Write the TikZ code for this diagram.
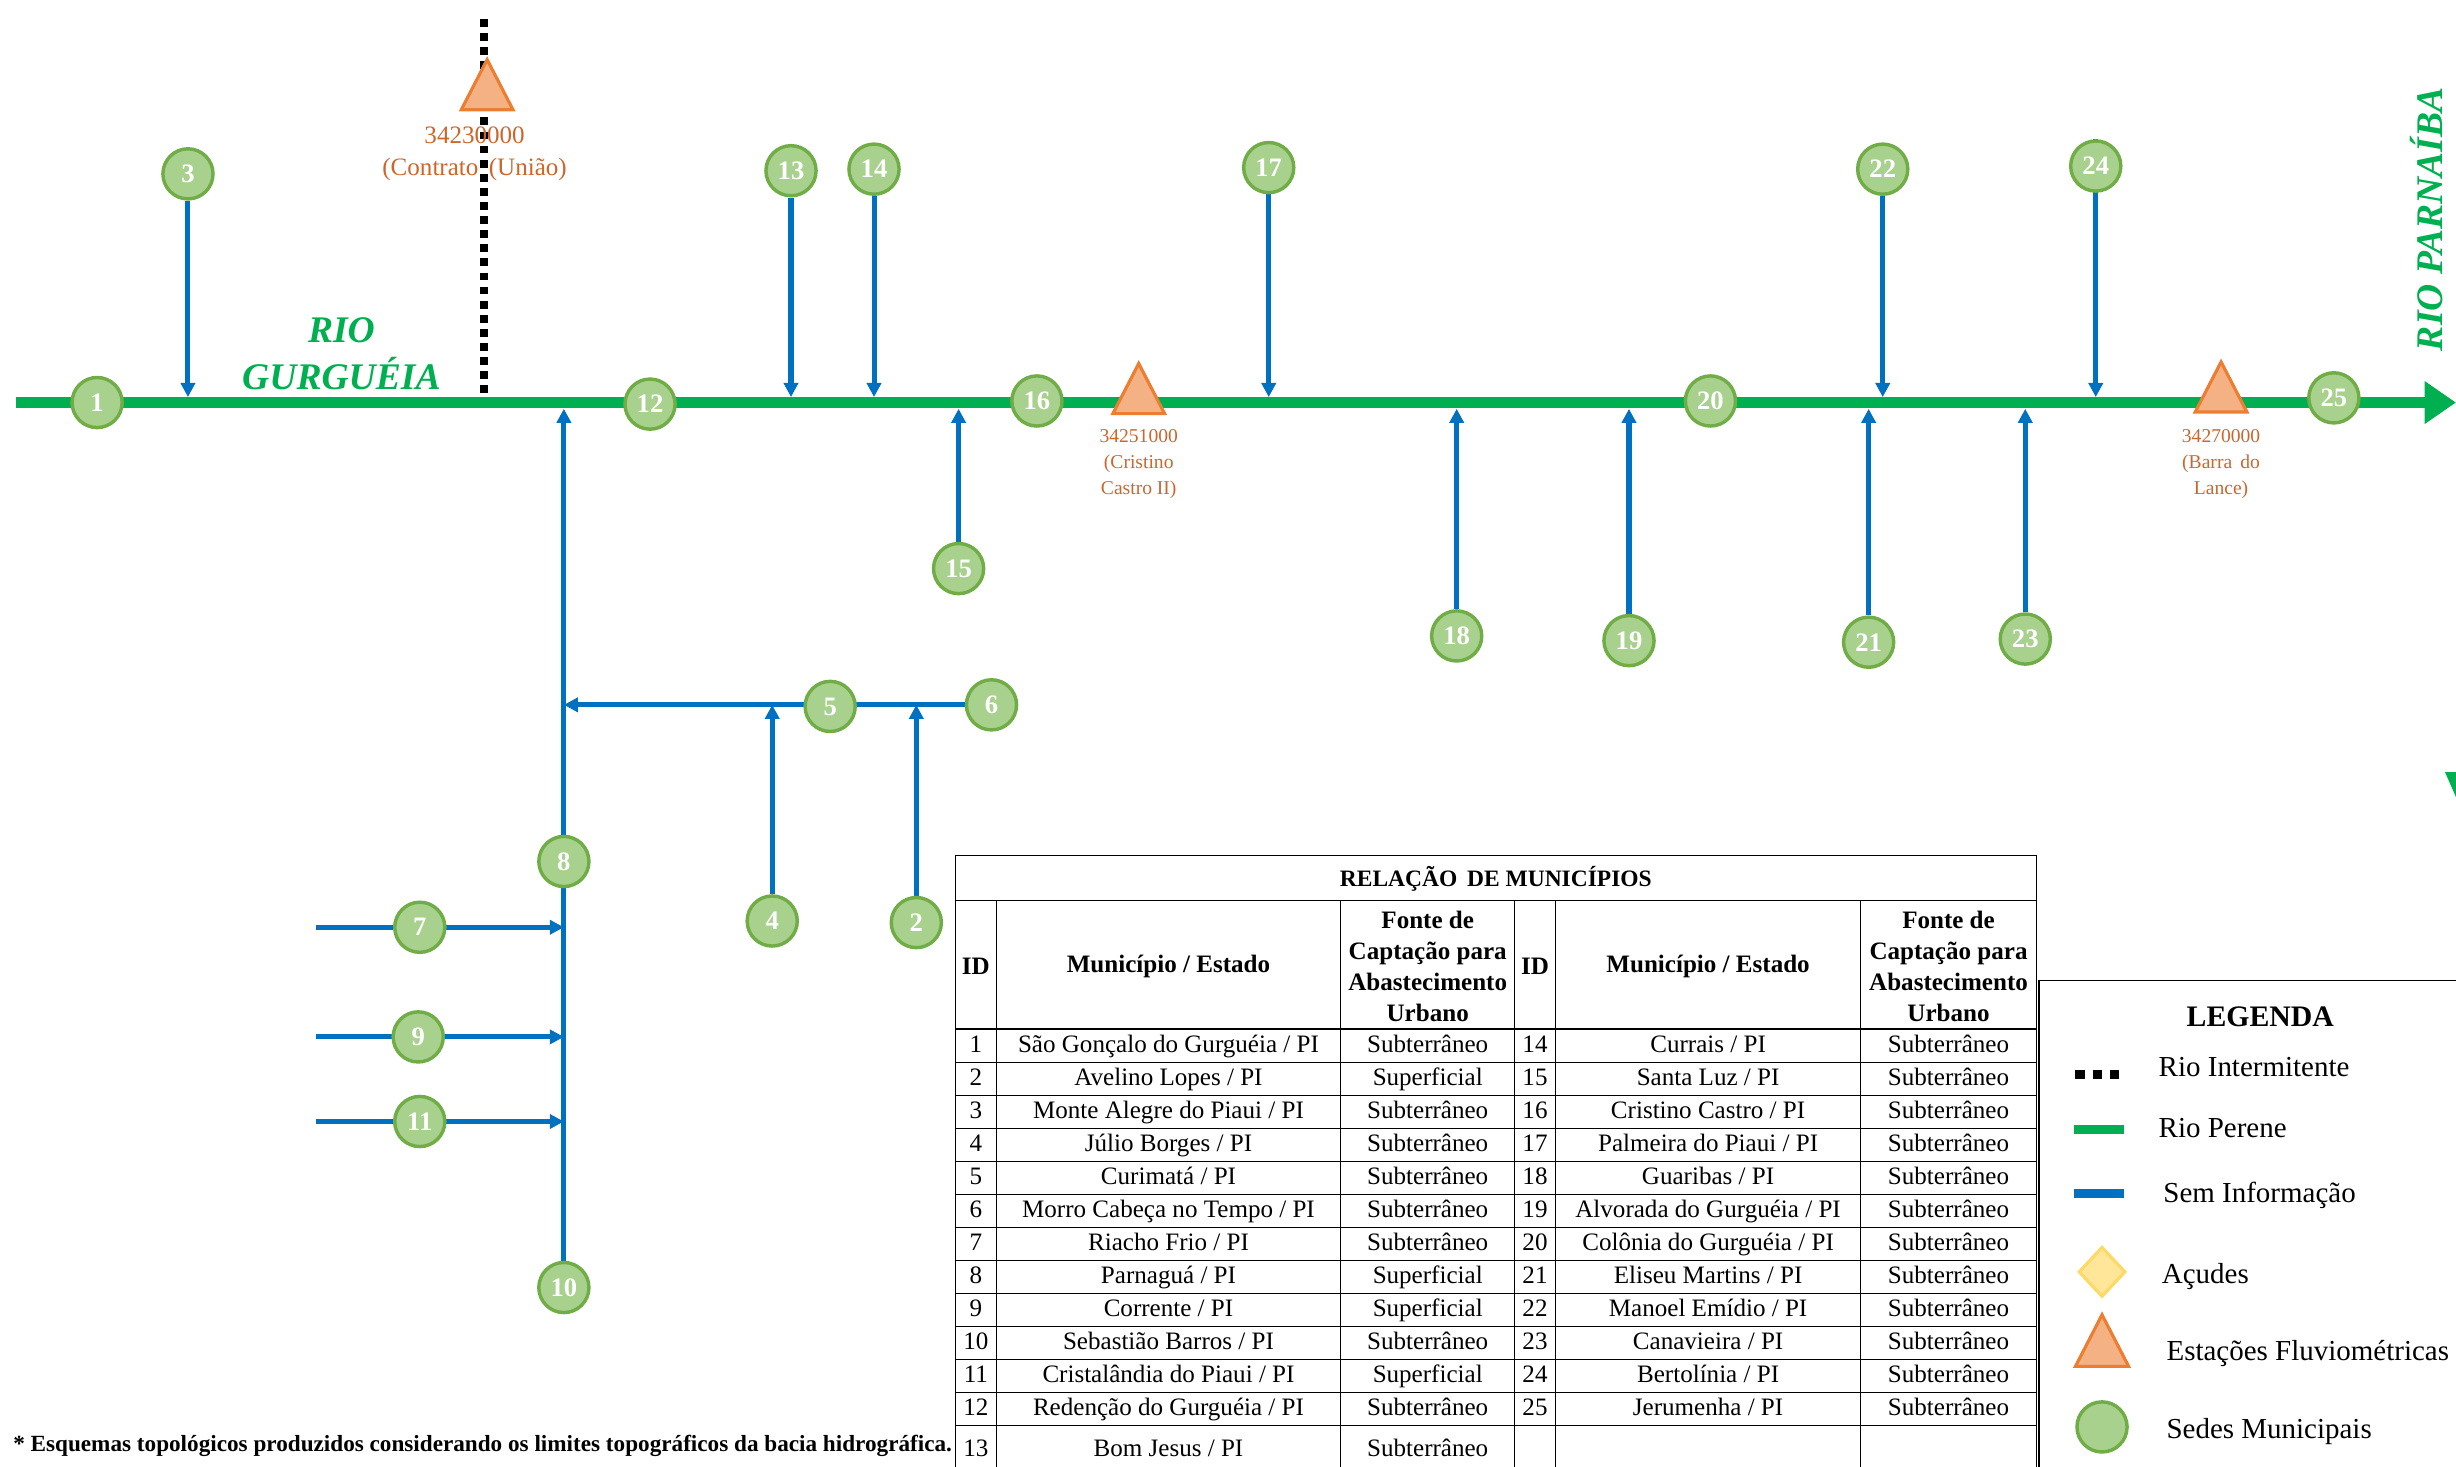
\documentclass[tikz,border=0pt]{standalone}
\usepackage{fontspec}
\setmainfont{Liberation Serif}
\usepackage{tikz}
\usetikzlibrary{shapes.geometric, arrows.meta, positioning, backgrounds}

\definecolor{rgreen}{RGB}{0,176,80}
\definecolor{sblue}{RGB}{0,112,192}
\definecolor{cline}{RGB}{112,173,71}
\definecolor{cfill}{RGB}{169,209,142}
\definecolor{tline}{RGB}{237,125,49}
\definecolor{tfill}{RGB}{244,177,131}
\definecolor{tlabel}{RGB}{204,102,45}
\definecolor{dline}{RGB}{255,217,102}
\definecolor{dfill}{RGB}{255,230,153}

\newcommand{\fsz}[2]{\fontsize{#1}{#2}\selectfont}

\begin{document}
\begin{tikzpicture}[x=1pt, y=-1pt,
	river/.style = {draw=rgreen, line width=7.5pt},
	trib/.style = {draw=sblue, line width=3.2pt},
	arrow/.style = {trib, -{Triangle[length=9pt, width=9pt]}},
	dry/.style = {draw=black, line width=5pt, dash pattern=on 5pt off 4pt},
	sede/.style = {circle, draw=cline, line width=2.2pt, fill=cfill, text=white, font=\bfseries\fsz{17}{17}, minimum size=32pt, inner sep=0pt},
	station/.style = {isosceles triangle, isosceles triangle stretches, shape border rotate=90, draw=tline, line width=2pt, fill=tfill, minimum width=33pt, minimum height=32pt, inner sep=0pt},
	stlabel/.style = {text=tlabel, align=center, inner sep=0pt}]
		\tikzset{cell/.style={font=\fsz{16}{20}, inner sep=0pt, text height=11pt, text depth=3.5pt},
			head/.style={font=\bfseries\fsz{16}{20}, inner sep=0pt, align=center},
			item/.style={anchor=west, font=\fsz{18.5}{22}, inner sep=0pt, text height=13pt, text depth=4pt}}
		\useasboundingbox (0,0) rectangle (1568,936);

		\coordinate (src) at (10,257);
		\coordinate (mouth) at (1568,257);
		\coordinate (rtop) at (0,253.5);
		\coordinate (rbot) at (0,261);
		\coordinate (dtop) at (309,12);
		\coordinate (t24) at (1338,89);
		\coordinate (w7) at (202,592);
		\coordinate (w9) at (202,662);
		\coordinate (w11) at (202,716);

		% sedes municipais
		\node[sede] (n1) at (62,257) {1};
		\node[sede] (n2) at (585,589) {2};
		\node[sede] (n3) at (120,111) {3};
		\node[sede] (n4) at (493,588) {4};
		\node[sede] (n5) at (530,451) {5};
		\node[sede] (n6) at (633,450) {6};
		\node[sede] (n7) at (268,592) {7};
		\node[sede] (n8) at (360,550) {8};
		\node[sede] (n9) at (267,662) {9};
		\node[sede] (n10) at (360,822) {10};
		\node[sede] (n11) at (268,716) {11};
		\node[sede] (n12) at (415,258) {12};
		\node[sede] (n13) at (505,109) {13};
		\node[sede] (n14) at (558,108) {14};
		\node[sede] (n15) at (612,363) {15};
		\node[sede] (n16) at (662,256) {16};
		\node[sede] (n17) at (810,107) {17};
		\node[sede] (n18) at (930,406) {18};
		\node[sede] (n19) at (1040,409) {19};
		\node[sede] (n20) at (1092,256) {20};
		\node[sede] (n21) at (1193,410) {21};
		\node[sede] (n22) at (1202,108) {22};
		\node[sede] (n23) at (1293,408) {23};
		\node[sede] (n24) at (1338,106) {24};
		\node[sede] (n25) at (1490,254) {25};

		% estacoes fluviometricas
		\node[station] (st1) at (311,60) {};
		\node[stlabel, font=\fsz{16}{20}, below=10pt of st1, xshift=-8pt] (lb1) {34230000\\(Contrato \,(União)};
		\node[station] (st2) at (727,254) {};
		\node[stlabel, font=\fsz{12.5}{16.5}, below=9pt of st2] (lb2) {34251000\\(Cristino\\Castro II)};
		\node[station] (st3) at (1418,253) {};
		\node[stlabel, font=\fsz{12.5}{16.5}, below=10pt of st3] (lb3) {34270000\\(Barra \,do\\Lance)};

		\node[text=rgreen, font=\bfseries\itshape\fsz{24}{30}, align=center] (gurg) at (218,226) {RIO\\GURGUÉIA};
		\node[text=rgreen, font=\bfseries\itshape\fsz{24}{30}, rotate=90] (parn) at (1549,140) {RIO PARNAÍBA};

		\begin{pgfonlayer}{background}
			\draw[river, -{Triangle[length=20pt, width=26pt]}] (src) -- (mouth);
			\draw[dry] (dtop) -- (dtop |- rtop);

			\draw[arrow] (n3) -- (n3 |- rtop);
			\draw[arrow] (n13) -- (n13 |- rtop);
			\draw[arrow] (n14) -- (n14 |- rtop);
			\draw[arrow] (n17) -- (n17 |- rtop);
			\draw[arrow] (n22) -- (n22 |- rtop);
			\draw[arrow] (t24) -- (t24 |- rtop);

			\draw[arrow] (n15) -- (n15 |- rbot);
			\draw[arrow] (n18) -- (n18 |- rbot);
			\draw[arrow] (n19) -- (n19 |- rbot);
			\draw[arrow] (n21) -- (n21 |- rbot);
			\draw[arrow] (n23) -- (n23 |- rbot);
			\draw[arrow] (n10) -- (n10 |- rbot);

			\draw[arrow] (n6) -- (n10 |- n6);
			\draw[arrow] (n4) -- (n4 |- n6);
			\draw[arrow] (n2) -- (n2 |- n6);
			\draw[arrow] (w7) -- (n10 |- w7);
			\draw[arrow] (w9) -- (n10 |- w9);
			\draw[arrow] (w11) -- (n10 |- w11);
		\end{pgfonlayer}

		\fill[rgreen] (1561,493) -- (1568,493) -- (1568,509) -- cycle;

		% tabela
		\node[font=\bfseries\fsz{15}{18}, inner sep=0pt] (tit) at (955,561) {RELAÇÃO \,DE MUNICÍPIOS};
		\foreach \y in {546,575,657} \draw[line width=0.8pt] (610,\y) -- (1300,\y);
		\foreach \k in {1,...,12} \draw[line width=0.8pt] (610,{657+21.1*\k}) -- (1300,{657+21.1*\k});
		\foreach \x in {636,856,967,993,1188} \draw[line width=0.8pt] (\x,575) -- (\x,945);
		\draw[line width=0.8pt] (610,945) -- (610,546) -- (1300,546) -- (1300,945);

		\foreach \x [count=\c] in {623,980} \node[head] (hid\c) at (\x,617) {ID};
		\foreach \x [count=\c] in {746,1090.5} \node[head] (hmun\c) at (\x,617) {Município / Estado};
		\foreach \x [count=\c] in {911.5,1244} \node[head] (hsrc\c) at (\x,617) {Fonte de\\Captação para\\Abastecimento\\Urbano};

		\foreach \id/\mun/\src in {1/São Gonçalo do Gurguéia/Subterrâneo, 2/Avelino Lopes/Superficial,
			3/Monte Alegre do Piaui/Subterrâneo, 4/Júlio Borges/Subterrâneo, 5/Curimatá/Subterrâneo,
			6/Morro Cabeça no Tempo/Subterrâneo, 7/Riacho Frio/Subterrâneo, 8/Parnaguá/Superficial,
			9/Corrente/Superficial, 10/Sebastião Barros/Subterrâneo, 11/Cristalândia do Piaui/Superficial,
			12/Redenção do Gurguéia/Subterrâneo}{
			\node[cell] (id\id) at (623,{668+21.1*(\id-1)}) {\id};
			\node[cell] (mun\id) at (746,{668+21.1*(\id-1)}) {\mun\ / PI};
			\node[cell] (src\id) at (911.5,{668+21.1*(\id-1)}) {\src};
		}
		\node[cell] (id13) at (623,926) {13};
		\node[cell] (mun13) at (746,926) {Bom Jesus / PI};
		\node[cell] (src13) at (911.5,926) {Subterrâneo};

		\foreach \id/\mun in {14/Currais, 15/Santa Luz, 16/Cristino Castro, 17/Palmeira do Piaui,
			18/Guaribas, 19/Alvorada do Gurguéia, 20/Colônia do Gurguéia, 21/Eliseu Martins,
			22/Manoel Emídio, 23/Canavieira, 24/Bertolínia, 25/Jerumenha}{
			\node[cell] (id\id) at (980,{668+21.1*(\id-14)}) {\id};
			\node[cell] (mun\id) at (1090.5,{668+21.1*(\id-14)}) {\mun\ / PI};
			\node[cell] (src\id) at (1244,{668+21.1*(\id-14)}) {Subterrâneo};
		}

		% legenda
		\draw[line width=1.2pt] (1302,945) -- (1302,626) -- (1575,626);
		\node[font=\bfseries\fsz{19}{23}, inner sep=0pt] (leg) at (1443,649) {LEGENDA};
		\draw[dry, line width=6pt, dash pattern=on 6pt off 5pt] (1325,686) -- (1353,686);
		\draw[river, line width=6pt] (1324,721) -- (1356,721);
		\draw[trib, line width=6pt] (1324,762) -- (1356,762);
		\node[diamond, draw=dline, line width=2pt, fill=dfill, minimum width=30pt, minimum height=32pt, inner sep=0pt] (acude) at (1342,812) {};
		\node[station, minimum width=34pt, minimum height=33pt] (estacao) at (1342,862) {};
		\node[sede] (sede) at (1342,911) {};
		\node[item] (i1) at (1378,683) {Rio Intermitente};
		\node[item] (i2) at (1378,722) {Rio Perene};
		\node[item] (i3) at (1381,763) {Sem Informação};
		\node[item] (i4) at (1380,815) {Açudes};
		\node[item] (i5) at (1383,864) {Estações Fluviométricas};
		\node[item] (i6) at (1383,914) {Sedes Municipais};

		\node[anchor=east, font=\bfseries\fsz{14.8}{18}, inner sep=0pt] (nota) at (608,923) {* Esquemas topológicos produzidos considerando os limites topográficos da bacia hidrográfica.};
	\end{tikzpicture}
\end{document}
